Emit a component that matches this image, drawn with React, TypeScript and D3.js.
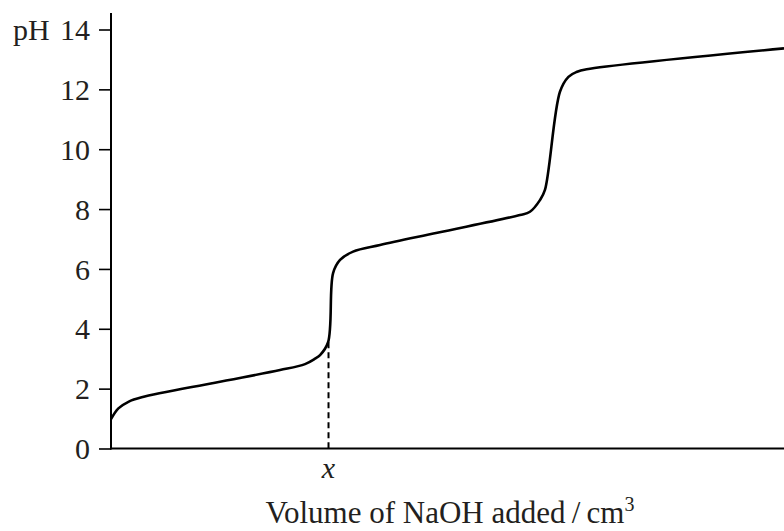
import { useEffect, useRef } from 'react';
import * as d3 from 'd3';

// volume expressed in multiples of the first equivalence volume x
const volumes = [
  0, 0.034, 0.08, 0.141, 0.478, 0.777, 0.892, 0.938, 0.961, 0.998,
  1.021, 1.053, 1.113, 1.237, 1.5, 1.88, 1.926, 1.972, 1.995, 2.064,
  2.103, 2.14, 2.187, 3.094,
];
const phValues = [
  0.98, 1.34, 1.56, 1.71, 2.2, 2.62, 2.82, 3.0, 3.12, 3.55,
  5.86, 6.3, 6.58, 6.8, 7.21, 7.8, 7.91, 8.3, 8.64, 11.92,
  12.42, 12.58, 12.67, 13.37,
];
const yTicks = [0, 2, 4, 6, 8, 10, 12, 14];
const equivalenceVolume = 1;
const equivalencePH = 3.55;

const FONT = '"Liberation Serif", "Times New Roman", serif';
const TEXT = '#231f20';

export default function App() {
  const svgRef = useRef<SVGSVGElement>(null);

  useEffect(() => {
    if (!svgRef.current) return;
    const width = 784;
    const height = 531;

    const svg = d3.select(svgRef.current);
    svg.selectAll('*').remove();

    const xScale = d3.scaleLinear().domain([0, 3.094]).range([111, 784]);
    const yScale = d3.scaleLinear().domain([0, 14]).range([448.5, 29.5]);

    // Y axis ticks + labels
    const yAxis = svg.append('g')
      .attr('transform', `translate(${xScale(0)},0)`)
      .call(d3.axisLeft(yScale).tickValues(yTicks).tickSize(12).tickSizeOuter(0).tickPadding(9));
    yAxis.select('.domain').remove();
    yAxis.selectAll('.tick line').attr('stroke', '#000').attr('stroke-width', 1.6);
    yAxis.selectAll('.tick text')
      .attr('fill', TEXT)
      .attr('font-size', '30px')
      .attr('font-family', FONT)
      .attr('dy', '0.34em');

    svg.append('text')
      .attr('x', 13)
      .attr('y', yScale(14))
      .attr('dy', '0.34em')
      .attr('font-size', '30px')
      .attr('font-family', FONT)
      .attr('fill', TEXT)
      .text('pH');

    // Axis lines
    svg.append('line')
      .attr('x1', xScale(0)).attr('x2', xScale(0))
      .attr('y1', 13).attr('y2', yScale(0) + 1)
      .attr('stroke', '#000').attr('stroke-width', 2);
    svg.append('line')
      .attr('x1', xScale(0) - 1).attr('x2', width)
      .attr('y1', yScale(0)).attr('y2', yScale(0))
      .attr('stroke', '#000').attr('stroke-width', 2);

    // Dashed drop line at first equivalence point
    svg.append('line')
      .attr('x1', xScale(equivalenceVolume)).attr('x2', xScale(equivalenceVolume))
      .attr('y1', yScale(equivalencePH)).attr('y2', yScale(0))
      .attr('stroke', '#000').attr('stroke-width', 2)
      .attr('stroke-dasharray', '6,4');

    svg.append('text')
      .attr('x', xScale(equivalenceVolume))
      .attr('y', 478)
      .attr('text-anchor', 'middle')
      .attr('font-size', '30px')
      .attr('font-style', 'italic')
      .attr('font-family', FONT)
      .attr('fill', TEXT)
      .text('x');

    // Axis title
    const title = svg.append('text')
      .attr('x', 450)
      .attr('y', 523)
      .attr('text-anchor', 'middle')
      .attr('font-size', '31px')
      .attr('font-family', FONT)
      .attr('fill', TEXT);
    title.append('tspan').text('Volume of NaOH added\u2009/\u2009cm');
    title.append('tspan').attr('font-size', '20px').attr('dy', '-12').text('3');

    // Titration curve
    const pts = volumes.map((v, i) => ({ v, ph: phValues[i] }));
    const line = d3.line<{ v: number; ph: number }>()
      .x(d => xScale(d.v))
      .y(d => yScale(d.ph))
      .curve(d3.curveCatmullRom.alpha(0.5));

    svg.append('path')
      .datum(pts)
      .attr('fill', 'none')
      .attr('stroke', '#000')
      .attr('stroke-width', 2.6)
      .attr('stroke-linejoin', 'round')
      .attr('d', line);

    svg.attr('width', width).attr('height', height);
  }, []);

  return (
    <svg
      ref={svgRef}
      width={784}
      height={531}
      style={{ position: 'absolute', left: 0, top: 0, background: '#fff' }}
    />
  );
}
